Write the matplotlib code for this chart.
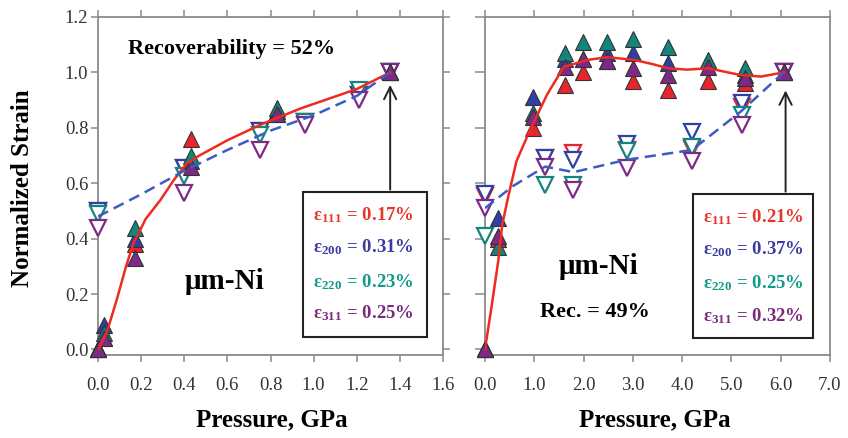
import matplotlib
matplotlib.use("Agg")
import matplotlib.pyplot as plt
from matplotlib.patches import Rectangle

plt.rcParams['font.family'] = ['Liberation Serif', 'DejaVu Serif']
plt.rcParams['mathtext.fontset'] = 'stix'

# reflections
hkl = ['111', '200', '220', '311']
colors = ['#e8242c', '#2e3fa6', '#12857c', '#7d2a86']
text_colors = ['#e8352b', '#3c3ca0', '#139a8e', '#7a2c7c']

# ---- left panel (0 - 1.4 GPa) ----
left_load_p = [0.0, 0.03, 0.17, 0.43, 0.83, 1.355]
left_load = {
    '111': [0.0, 0.04, 0.38, 0.76, 0.85, 1.0],
    '200': [0.0, 0.09, 0.40, 0.68, 0.86, 1.0],
    '220': [0.0, 0.06, 0.44, 0.70, 0.87, 1.0],
    '311': [0.0, 0.04, 0.33, 0.66, 0.85, 1.0],
}
left_unload_p = [1.355, 1.21, 0.96, 0.75, 0.40, 0.0]
left_unload = {
    '111': [1.0, 0.92, 0.82, 0.79, 0.655, 0.50],
    '200': [1.0, 0.92, 0.82, 0.79, 0.655, 0.50],
    '220': [1.0, 0.935, 0.82, 0.775, 0.625, 0.49],
    '311': [1.0, 0.90, 0.81, 0.72, 0.565, 0.44],
}
left_fit_load_p = [0, 0.04, 0.087, 0.13, 0.165, 0.195, 0.22, 0.29, 0.35, 0.41, 0.47, 0.6, 0.75, 0.94, 1.2, 1.355]
left_fit_load_s = [0, 0.06, 0.18, 0.30, 0.385, 0.43, 0.47, 0.54, 0.61, 0.67, 0.70, 0.755, 0.81, 0.87, 0.94, 1.0]
left_fit_unload_p = [0, 0.2, 0.4, 0.6, 0.8, 1.0, 1.2, 1.355]
left_fit_unload_s = [0.48, 0.56, 0.645, 0.72, 0.79, 0.845, 0.915, 1.0]
left_strain = ['0.17', '0.31', '0.23', '0.25']

# ---- right panel (0 - 6 GPa) ----
right_load_p = [0.0, 0.27, 0.98, 1.63, 1.99, 2.48, 3.0, 3.72, 4.53, 5.28, 6.06]
right_load = {
    '111': [0.0, 0.40, 0.80, 0.955, 1.00, 1.04, 0.97, 0.935, 0.97, 0.96, 1.0],
    '200': [0.0, 0.475, 0.91, 1.05, 1.05, 1.07, 1.07, 1.035, 1.04, 0.99, 1.0],
    '220': [0.0, 0.37, 0.855, 1.07, 1.11, 1.11, 1.12, 1.09, 1.045, 1.015, 1.0],
    '311': [0.0, 0.41, 0.84, 1.02, 1.05, 1.04, 1.015, 0.99, 1.02, 0.98, 1.0],
}
right_unload_p = [6.06, 5.22, 4.2, 2.88, 1.79, 1.22, 0.0]
right_unload = {
    '111': [1.0, 0.875, 0.725, 0.72, 0.71, 0.69, 0.555],
    '200': [1.0, 0.89, 0.785, 0.74, 0.685, 0.69, 0.56],
    '220': [1.0, 0.845, 0.73, 0.715, 0.595, 0.595, 0.41],
    '311': [1.0, 0.81, 0.68, 0.655, 0.575, 0.66, 0.51],
}
right_fit_load_p = [0, 0.13, 0.27, 0.35, 0.47, 0.64, 0.91, 1.26, 1.6, 2.08, 2.48, 3.03, 3.4, 3.71, 4.1, 4.53, 5.2, 5.6, 6.06]
right_fit_load_s = [0, 0.15, 0.32, 0.45, 0.55, 0.68, 0.79, 0.92, 1.02, 1.045, 1.055, 1.045, 1.03, 1.015, 1.01, 1.015, 0.99, 0.985, 1.0]
right_fit_unload_p = [0, 0.57, 1.22, 1.8, 2.88, 4.2, 5.2, 6.06]
right_fit_unload_s = [0.51, 0.59, 0.66, 0.64, 0.685, 0.72, 0.86, 1.0]
right_strain = ['0.21', '0.37', '0.25', '0.32']

fig = plt.figure(figsize=(8.48, 4.38), dpi=100)
ax1 = fig.add_axes([0.1156, 0.1895, 0.4068, 0.7717])
ax2 = fig.add_axes([0.5719, 0.1895, 0.4068, 0.7717])

frame = '#8a8a8a'


def draw_panel(ax, load_p, load, unload_p, unload, fl_p, fl_s, fu_p, fu_s):
    for h, c in zip(hkl, colors):
        ax.plot(unload_p, unload[h], linestyle='none', marker='v', ms=11,
                mfc='white', mec=c, mew=1.6, zorder=3, clip_on=False)
    for h, c in zip(hkl, colors):
        ax.plot(load_p, load[h], linestyle='none', marker='^', ms=11,
                mfc=c, mec='#333333', mew=0.8, zorder=4, clip_on=False)
    ax.plot(fl_p, fl_s, color='#f02a1e', lw=1.8, zorder=5)
    ax.plot(fu_p, fu_s, color='#3a5cc4', lw=1.8, ls=(0, (4.5, 2.5)), zorder=5)
    for s in ax.spines.values():
        s.set_color(frame)
        s.set_linewidth(1.3)
    ax.tick_params(direction='out', color=frame, width=1.1, length=5,
                   labelsize=13.5, labelcolor='#333333')
    ax.tick_params(axis='x', pad=11, top=True)
    ax.set_ylim(-0.02, 1.2)


def legend_box(ax, x0, y0, x1, y1, values, ys):
    ax.add_patch(Rectangle((x0, y0), x1 - x0, y1 - y0, transform=ax.transAxes,
                           fill=True, fc='white', ec='#222222', lw=1.5, zorder=6))
    for h, v, tc, yy in zip(hkl, values, text_colors, ys):
        ax.text(x0 + 0.028, yy, r'ε$_{\mathregular{%s}}$ = %s%%' % (h, v),
                transform=ax.transAxes, color=tc, fontsize=13.5, fontweight='bold',
                ha='left', va='center', zorder=7)


draw_panel(ax1, left_load_p, left_load, left_unload_p, left_unload,
           left_fit_load_p, left_fit_load_s, left_fit_unload_p, left_fit_unload_s)
ax1.set_xlim(0, 1.6)
ax1.set_xticks([0, 0.2, 0.4, 0.6, 0.8, 1.0, 1.2, 1.4, 1.6])
ax1.set_xticklabels(['0.0', '0.2', '0.4', '0.6', '0.8', '1.0', '1.2', '1.4', '1.6'])
ax1.set_yticks([0, 0.2, 0.4, 0.6, 0.8, 1.0, 1.2])
ax1.set_yticklabels(['0.0', '0.2', '0.4', '0.6', '0.8', '1.0', '1.2'])
ax1.tick_params(axis='y', right=True, pad=2)

draw_panel(ax2, right_load_p, right_load, right_unload_p, right_unload,
           right_fit_load_p, right_fit_load_s, right_fit_unload_p, right_fit_unload_s)
ax2.set_xlim(0, 7.0)
ax2.set_xticks(range(8))
ax2.set_xticklabels(['%.1f' % v for v in range(8)])
ax2.set_yticks([0, 0.2, 0.4, 0.6, 0.8, 1.0, 1.2])
ax2.tick_params(axis='y', labelleft=False, length=7)

# annotations
ax1.text(0.387, 0.905, 'Recoverability = 52%', transform=ax1.transAxes,
         fontsize=16, fontweight='bold', ha='center', va='center')
ax1.text(0.367, 0.217, 'μm-Ni', transform=ax1.transAxes,
         fontsize=21, fontweight='bold', ha='center', va='center')
legend_box(ax1, 0.594, 0.053, 0.954, 0.481, left_strain, [0.415, 0.318, 0.217, 0.125])
ax1.annotate('', xy=(1.355, 0.965), xycoords='data',
             xytext=(1.355, 0.481), textcoords=('data', 'axes fraction'),
             arrowprops=dict(arrowstyle='->', color='#222222', lw=1.4,
                             mutation_scale=22), zorder=6)

ax2.text(0.329, 0.261, 'μm-Ni', transform=ax2.transAxes,
         fontsize=21, fontweight='bold', ha='center', va='center')
ax2.text(0.320, 0.128, 'Rec. = 49%', transform=ax2.transAxes,
         fontsize=16, fontweight='bold', ha='center', va='center')
legend_box(ax2, 0.603, 0.050, 0.951, 0.475, right_strain, [0.407, 0.312, 0.214, 0.116])
ax2.annotate('', xy=(6.1, 0.945), xycoords='data',
             xytext=(6.1, 0.475), textcoords=('data', 'axes fraction'),
             arrowprops=dict(arrowstyle='->', color='#222222', lw=1.4,
                             mutation_scale=22), zorder=6)

fig.text(0.027, 0.57, 'Normalized Strain', rotation=90, fontsize=18,
         fontweight='bold', ha='center', va='center')
fig.text(0.32, 0.041, 'Pressure, GPa', fontsize=18, fontweight='bold',
         ha='center', va='center')
fig.text(0.772, 0.041, 'Pressure, GPa', fontsize=18, fontweight='bold',
         ha='center', va='center')

fig.savefig('out.png', dpi=100)
